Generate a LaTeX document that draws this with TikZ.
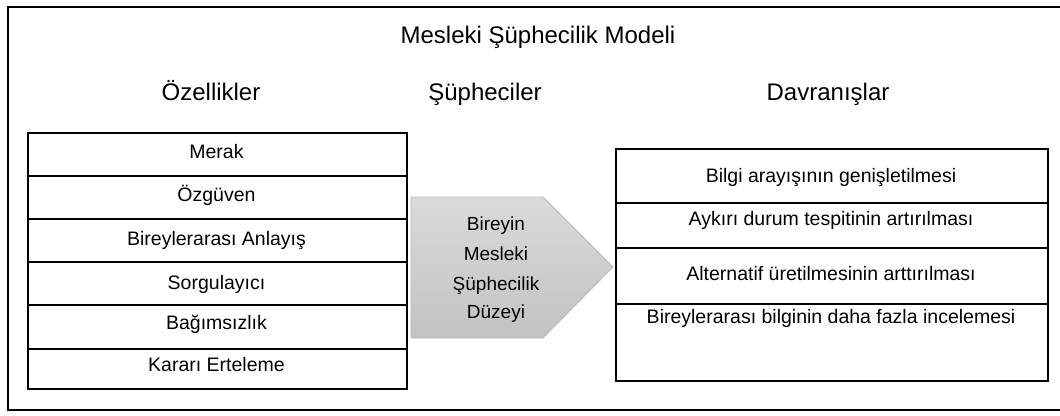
\documentclass[tikz,border=0pt]{standalone}
\usepackage{fontspec}
\setmainfont{Liberation Sans}
\definecolor{arrtop}{HTML}{DADADA}
\definecolor{arrbot}{HTML}{C2C2C2}
\definecolor{arredge}{HTML}{B8B8B8}
\begin{document}
\begin{tikzpicture}[x=1pt,y=-1pt,
  box/.style={draw=black,line width=2pt,inner sep=0pt,anchor=north west},
  hdr/.style={font=\fontsize{24}{28}\selectfont,anchor=base,inner sep=0pt},
  txt/.style={font=\fontsize{19.5}{23}\selectfont,anchor=base,inner sep=0pt},
  atxt/.style={font=\fontsize{19}{23}\selectfont,anchor=base,inner sep=0pt}]
\useasboundingbox (0,0) rectangle (1060,415);
% outer frame
\node[box,line width=2.2pt,minimum width=1063pt,minimum height=403pt] (frame) at (7,6) {};
% headers
\node[hdr] (title) at (538,43) {Mesleki Şüphecilik Modeli};
\node[hdr] (h1) at (211,100) {Özellikler};
\node[hdr] (h2) at (485,100) {Şüpheciler};
\node[hdr] (h3) at (828,100) {Davranışlar};
% left table
\node[box,minimum width=379pt,minimum height=43pt] (l1) at (27,132) {};
\node[box,minimum width=379pt,minimum height=43pt] (l2) at (27,175) {};
\node[box,minimum width=379pt,minimum height=43pt] (l3) at (27,218) {};
\node[box,minimum width=379pt,minimum height=43pt] (l4) at (27,261) {};
\node[box,minimum width=379pt,minimum height=44pt] (l5) at (27,304) {};
\node[box,minimum width=379pt,minimum height=40pt] (l6) at (27,348) {};
\node[txt] (t1) at (216.5,158) {Merak};
\node[txt] (t2) at (216.5,201) {Özgüven};
\node[txt] (t3) at (216.5,245) {Bireylerarası Anlayış};
\node[txt] (t4) at (216.5,289) {Sorgulayıcı};
\node[txt] (t5) at (216.5,329) {Bağımsızlık};
\node[txt] (t6) at (216.5,371) {Kararı Erteleme};
% arrow
\shade[top color=arrtop,bottom color=arrbot,draw=arredge,line width=0.8pt]
  (411,197) -- (543,197) -- (613,267) -- (543,338) -- (411,338) -- cycle;
\node[atxt] (a1) at (496,230) {Bireyin};
\node[atxt] (a2) at (496,260) {Mesleki};
\node[atxt] (a3) at (496,290) {Şüphecilik};
\node[atxt] (a4) at (496,318) {Düzeyi};
% right table
\node[box,minimum width=432pt,minimum height=54pt] (r1) at (615,148) {};
\node[box,minimum width=432pt,minimum height=45pt] (r2) at (615,202) {};
\node[box,minimum width=432pt,minimum height=56pt] (r3) at (615,247) {};
\node[box,minimum width=432pt,minimum height=77pt] (r4) at (615,303) {};
\node[txt] (s1) at (831,182) {Bilgi arayışının genişletilmesi};
\node[txt] (s2) at (831,225) {Aykırı durum tespitinin artırılması};
\node[txt] (s3) at (831,280) {Alternatif üretilmesinin arttırılması};
\node[txt] (s4) at (831,323) {Bireylerarası bilginin daha fazla incelemesi};
\end{tikzpicture}
\end{document}
